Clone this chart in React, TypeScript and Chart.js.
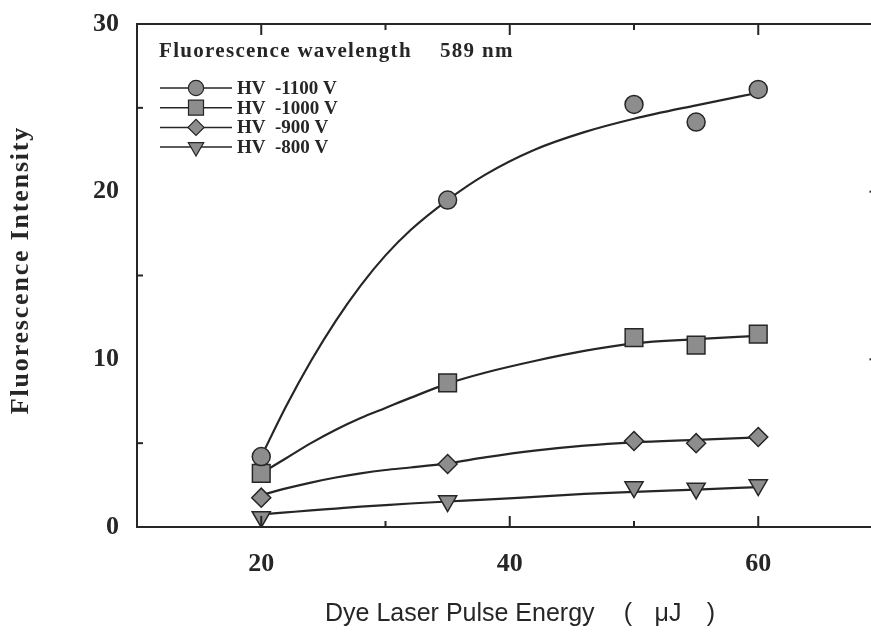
import { useEffect, useRef } from 'react';
import { Chart, registerables } from 'chart.js';
import { drawPoint } from 'chart.js/helpers';

Chart.register(...registerables);

// Measured pulse energies (µJ)
const energies = [20, 35, 50, 55, 60];

// Fluorescence intensity at each photomultiplier voltage
const hv1100 = [4.2, 19.5, 25.2, 24.15, 26.1];
const hv1000 = [3.2, 8.6, 11.3, 10.85, 11.5];
const hv900 = [1.75, 3.76, 5.13, 5.0, 5.37];
const hv800 = [0.6, 1.55, 2.38, 2.3, 2.5];

// Smooth fitted curves through each set of measurements
const fitEnergies = [20, 22, 24, 26, 28, 30, 32, 35, 38, 42, 46, 50, 55, 60];
const fit1100 = [4.2, 7.2, 9.9, 12.3, 14.4, 16.2, 17.7, 19.5, 21.0, 22.5, 23.55, 24.35, 25.15, 25.9];
const fit1000 = [3.2, 4.1, 5.0, 5.8, 6.5, 7.1, 7.7, 8.55, 9.2, 9.9, 10.5, 10.95, 11.2, 11.4];
const fit900 = [1.9, 2.3, 2.65, 2.95, 3.2, 3.4, 3.55, 3.8, 4.15, 4.55, 4.85, 5.05, 5.2, 5.35];
const fit800 = [0.75, 0.87, 0.99, 1.1, 1.21, 1.31, 1.4, 1.52, 1.63, 1.8, 1.97, 2.1, 2.23, 2.38];

const seriesLabels = ['HV  -1100 V', 'HV  -1000 V', 'HV  -900 V', 'HV  -800 V'];
const legendTitle = 'Fluorescence wavelength';
const legendWavelength = '589 nm';

const xTicks = [20, 40, 60];
const yTicks = [0, 10, 20, 30];
const xMinorTicks = [30, 50];
const yMinorTicks = [5, 15, 25];

const xTitle = 'Dye Laser Pulse Energy';
const xUnit = ['(', 'μJ', ')'];
const yTitle = 'Fluorescence Intensity';

const INK = '#262626';
const MARK_FILL = '#8d8d8d';

const markerStyles = [
  { pointStyle: 'circle', radius: 9, rotation: 0 },
  { pointStyle: 'rect', radius: 12.5, rotation: 0 },
  { pointStyle: 'rectRot', radius: 9.5, rotation: 0 },
  { pointStyle: 'triangle', radius: 10.5, rotation: 180 },
];

const pairs = (xs: number[], ys: number[]) => xs.map((x, i) => ({ x, y: ys[i] }));

const framePlugin = {
  id: 'frameAndLegend',
  afterDraw(chart: any) {
    const { ctx, chartArea } = chart;
    const { left, right, top, bottom } = chartArea;
    const xs = chart.scales.x;
    const ys = chart.scales.y;
    ctx.save();

    // top and right edges of the frame
    ctx.strokeStyle = INK;
    ctx.lineWidth = 2;
    ctx.beginPath();
    ctx.moveTo(left, top);
    ctx.lineTo(right, top);
    ctx.lineTo(right, bottom);
    ctx.stroke();

    // inward tick marks
    const vTick = (x: number, len: number) => {
      ctx.beginPath();
      ctx.moveTo(x, bottom);
      ctx.lineTo(x, bottom - len);
      ctx.moveTo(x, top);
      ctx.lineTo(x, top + len);
      ctx.stroke();
    };
    xTicks.forEach((v) => vTick(xs.getPixelForValue(v), 11));
    xMinorTicks.forEach((v) => vTick(xs.getPixelForValue(v), 6));
    yMinorTicks.forEach((v) => {
      const y = ys.getPixelForValue(v);
      ctx.beginPath();
      ctx.moveTo(left, y);
      ctx.lineTo(left + 6, y);
      ctx.stroke();
    });
    yTicks.slice(1, 3).forEach((v) => {
      const y = ys.getPixelForValue(v);
      ctx.beginPath();
      ctx.moveTo(right, y);
      ctx.lineTo(right - 13, y);
      ctx.stroke();
    });

    // legend block in the upper-left corner of the plot
    ctx.fillStyle = INK;
    ctx.textBaseline = 'alphabetic';
    ctx.textAlign = 'left';
    ctx.font = 'bold 21px "Liberation Serif"';
    (ctx as any).letterSpacing = '1.3px';
    ctx.fillText(legendTitle, left + 22, top + 33);
    ctx.fillText(legendWavelength, left + 303, top + 33);
    (ctx as any).letterSpacing = '0px';

    const rowsTop = top + 64;
    const rowStep = 19.7;
    seriesLabels.forEach((label, i) => {
      const y = rowsTop + i * rowStep;
      ctx.strokeStyle = INK;
      ctx.lineWidth = 1.5;
      ctx.beginPath();
      ctx.moveTo(left + 23, y);
      ctx.lineTo(left + 95, y);
      ctx.stroke();
      const m = markerStyles[i];
      ctx.fillStyle = MARK_FILL;
      ctx.strokeStyle = INK;
      ctx.lineWidth = 1.2;
      drawPoint(ctx, { pointStyle: m.pointStyle, rotation: m.rotation, radius: m.radius * 0.85, borderWidth: 1.2 } as any, left + 59, y);
      ctx.fillStyle = INK;
      ctx.textBaseline = 'middle';
      ctx.font = 'bold 19px "Liberation Serif"';
      ctx.fillText(label, left + 100, y + 1);
    });

    // axis titles
    ctx.fillStyle = INK;
    ctx.font = '25px "Liberation Sans"';
    ctx.textAlign = 'left';
    ctx.textBaseline = 'middle';
    ctx.fillText(xTitle, 325, 614);
    ctx.textAlign = 'center';
    ctx.fillText(xUnit[0], 628, 614);
    ctx.fillText(xUnit[1], 668, 614);
    ctx.fillText(xUnit[2], 711, 614);

    ctx.save();
    ctx.translate(21, 270);
    ctx.rotate(-Math.PI / 2);
    ctx.font = 'bold 26px "Liberation Serif"';
    (ctx as any).letterSpacing = '1.8px';
    ctx.fillText(yTitle, 0, 0);
    ctx.restore();

    ctx.restore();
  },
};

export default function App() {
  const canvasRef = useRef<HTMLCanvasElement | null>(null);

  useEffect(() => {
    const canvas = canvasRef.current;
    if (!canvas) return;
    const markerSets = [hv1100, hv1000, hv900, hv800];
    const fitSets = [fit1100, fit1000, fit900, fit800];

    const markerDatasets = markerSets.map((vals, i) => ({
      type: 'line' as const,
      label: seriesLabels[i],
      data: pairs(energies, vals),
      showLine: false,
      pointStyle: markerStyles[i].pointStyle,
      pointRotation: markerStyles[i].rotation,
      pointRadius: markerStyles[i].radius,
      pointBackgroundColor: MARK_FILL,
      pointBorderColor: INK,
      pointBorderWidth: 1.5,
    }));
    const fitDatasets = fitSets.map((vals, i) => ({
      type: 'line' as const,
      label: seriesLabels[i] + ' fit',
      data: pairs(fitEnergies, vals),
      borderColor: INK,
      borderWidth: 2.2,
      pointRadius: 0,
      cubicInterpolationMode: 'monotone' as const,
      fill: false,
    }));

    const chart = new Chart(canvas, {
      type: 'line',
      data: { datasets: [...markerDatasets, ...fitDatasets] as any },
      options: {
        animation: false,
        responsive: false,
        devicePixelRatio: 1,
        layout: { padding: { left: 0, top: 24, right: 17.5, bottom: 0 } },
        plugins: { legend: { display: false }, tooltip: { enabled: false } },
        scales: {
          x: {
            type: 'linear',
            min: 10,
            max: 70,
            grid: { display: false, drawTicks: false },
            border: { display: true, color: INK, width: 2 },
            afterBuildTicks: (axis: any) => {
              axis.ticks = xTicks.map((value) => ({ value }));
            },
            afterFit: (axis: any) => {
              axis.height = 117;
              axis.paddingLeft = 0;
              axis.paddingRight = 0;
            },
            ticks: {
              padding: 22,
              color: INK,
              font: { family: '"Liberation Serif"', size: 26, weight: 'bold' },
            },
          },
          y: {
            type: 'linear',
            min: 0,
            max: 30,
            grid: { display: false, drawTicks: false },
            border: { display: true, color: INK, width: 2 },
            afterBuildTicks: (axis: any) => {
              axis.ticks = yTicks.map((value) => ({ value }));
            },
            afterFit: (axis: any) => {
              axis.width = 137;
              axis.paddingTop = 0;
              axis.paddingBottom = 0;
            },
            ticks: {
              padding: 18,
              color: INK,
              font: { family: '"Liberation Serif"', size: 26, weight: 'bold' },
            },
          },
        },
      },
      plugins: [framePlugin],
    });

    return () => chart.destroy();
  }, []);

  return (
    <div
      style={{
        position: 'fixed',
        left: 0,
        top: 0,
        width: 871,
        height: 644,
        overflow: 'hidden',
        background: '#fff',
      }}
    >
      <canvas ref={canvasRef} width={900} height={644} style={{ display: 'block' }} />
    </div>
  );
}
